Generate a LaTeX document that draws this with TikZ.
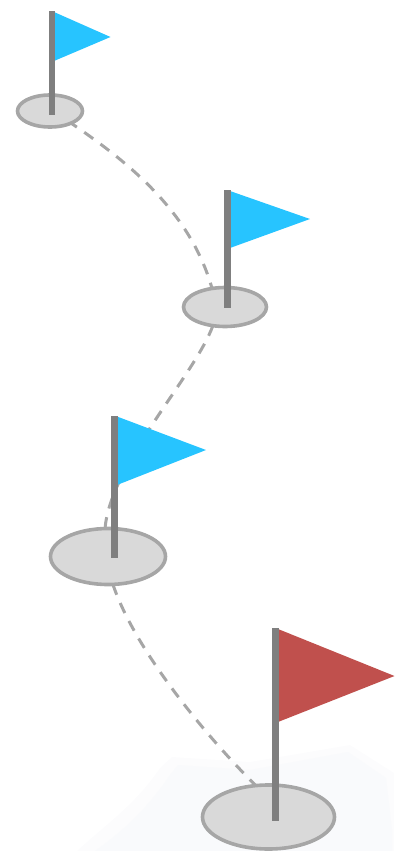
\documentclass[tikz,border=0pt]{standalone}
\usetikzlibrary{shapes.geometric,backgrounds}
\definecolor{rim}{HTML}{A6A6A6}
\definecolor{hole}{HTML}{D9D9D9}
\definecolor{pole}{HTML}{7F7F7F}
\definecolor{blueflag}{HTML}{27C4FF}
\definecolor{redflag}{HTML}{C0504D}
\definecolor{groundouter}{HTML}{FCFCFD}
\definecolor{groundinner}{HTML}{F9FAFC}
\tikzset{
  x=1pt,y=-1pt,
  holeshape/.style={ellipse,draw=rim,fill=hole,line width=3.6pt,inner sep=0pt,outer sep=0pt},
  trail/.style={draw=rim,line width=3pt,dash pattern=on 11pt off 9pt},
  polestyle/.style={fill=pole,draw=none},
  flagblue/.style={fill=blueflag,draw=none},
  flagred/.style={fill=redflag,draw=none},
  ground/.style={fill=#1,draw=none}
}
\begin{document}
\begin{tikzpicture}
\useasboundingbox (0,0) rectangle (394,851);
% holes
\node[holeshape,minimum width=65pt,minimum height=32pt] (h1) at (50,111) {};
\node[holeshape,minimum width=83pt,minimum height=39pt] (h2) at (225,307) {};
\node[holeshape,minimum width=115pt,minimum height=56pt] (h3) at (108,556.5) {};
\node[holeshape,minimum width=132pt,minimum height=64pt] (h4) at (268.5,817) {};
% ground and trails behind the holes
\begin{scope}[on background layer]
\fill[ground=groundouter] (77,851) .. controls (105,825) and (135,805) .. (160,768) -- (172,757) -- (250,762) -- (350,745) -- (394,773) -- (394,851) -- cycle;
\fill[ground=groundinner] (95,851) .. controls (125,830) and (150,805) .. (170,775) -- (178,765) -- (250,770) -- (348,752) -- (386,778) -- (392,830) -- (392,851) -- cycle;
\coordinate (t1a) at (h1.-30);
\coordinate (t1b) at (h2.125);
\coordinate (t2a) at (h2.-123);
\coordinate (t2b) at (h3.96);
\coordinate (t3a) at (h3.-80);
\coordinate (t3b) at (h4.112);
\path[trail,dash phase=4pt] (t1a) .. controls (125,160) and (190,210) .. (t1b);
\path[trail] (t2a) .. controls (195,375) and (110,465) .. (t2b);
\path[trail] (t3a) .. controls (135,650) and (205,735) .. (t3b);
\end{scope}
% flag 1
\fill[flagblue] (54,12) -- (110.5,37) -- (54,61) -- cycle;
\fill[polestyle] (49,11) rectangle (55,115);
% flag 2
\fill[flagblue] (230,191) -- (310,219) -- (230,248) -- cycle;
\fill[polestyle] (224,190) rectangle (231,308);
% flag 3
\fill[flagblue] (117,416.5) -- (206,450) -- (117,485) -- cycle;
\fill[polestyle] (111,416) rectangle (118,558);
% flag 4
\fill[flagred] (278,629) -- (394.5,676) -- (278,722) -- cycle;
\fill[polestyle] (272,628) rectangle (279,821);
\end{tikzpicture}
\end{document}
